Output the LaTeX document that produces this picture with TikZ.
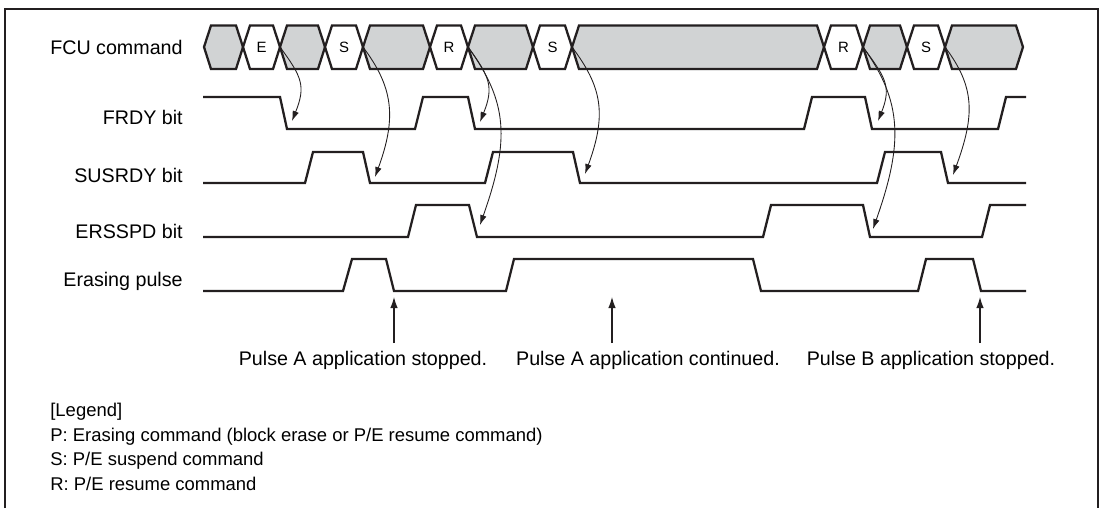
\documentclass[tikz,border=0pt]{standalone}
\usepackage{fontspec}
\setmainfont{Liberation Sans}
\usetikzlibrary{arrows.meta}
\definecolor{busc}{HTML}{D1D3D4}
\definecolor{ink}{HTML}{231F20}
\tikzset{
  frame/.style={draw=ink, line width=1.4pt},
  wave/.style={draw=ink, line width=1.3pt, line join=miter},
  bus/.style={draw=ink, line width=1.3pt, line join=miter},
  sig/.style={font=\fontsize{11.2}{13}\selectfont, anchor=base east, inner sep=0pt},
  cmd/.style={font=\fontsize{8.5}{10}\selectfont, inner sep=0pt},
  note/.style={font=\fontsize{11.2}{13}\selectfont, inner sep=0pt},
  lgd/.style={font=\fontsize{10.5}{12}\selectfont, anchor=west, inner sep=0pt},
  flow/.style={-{Latex[length=2mm,width=1.3mm]}, draw=ink, line width=0.5pt},
  pointer/.style={-{Latex[length=2.2mm,width=1.5mm]}, draw=ink, line width=0.6pt},
}

\begin{document}
\begin{tikzpicture}[x=0.2mm, y=-0.2mm]
\useasboundingbox (0,0) rectangle (1101,508);

% frame, open at the bottom
\draw[frame] (5,508) -- (5,9) -- (1098,9) -- (1098,508);

% signal names
\node[sig] (nfcu) at (183,54) {FCU command};
\node[sig] (nfrdy) at (183,124) {FRDY bit};
\node[sig] (nsus) at (183,182) {SUSRDY bit};
\node[sig] (ners) at (183,238) {ERSSPD bit};
\node[sig] (nerase) at (183,286) {Erasing pulse};

% ---------------- the command bus ----------------
\foreach \a/\b/\c/\t [count=\i] in {204/243/busc/{}, 243/280/white/E, 280/325/busc/{},
    325/363/white/S, 363/430/busc/{}, 430/468/white/R, 468/533/busc/{}, 533/572/white/S,
    572/824/busc/{}, 824/863/white/R, 863/907/busc/{}, 907/945/white/S, 945/1023/busc/{}} {
  \draw[bus, fill=\c] (\a,47) -- (\a+7,25.5) -- (\b-7,25.5) -- (\b,47) -- (\b-7,69) -- (\a+7,69) -- cycle;
  \node[cmd] (seg\i) at ({(\a+\b)/2},47.5) {\t};
}
% where each command ends
\coordinate (eEnd) at (280,47);
\coordinate (sEndA) at (363,47);
\coordinate (rEndA) at (468,47);
\coordinate (sEndB) at (572,47);
\coordinate (rEndB) at (863,47);
\coordinate (sEndC) at (945,47);

% ---------------- the flags ----------------
\draw[wave] (203,97) -- (280,97) -- (287,129) -- (415,129) -- (423,97) -- (468,97) -- (475,129)
  -- (804,129) -- (812,97) -- (865,97) -- (872,129) -- (998,129) -- (1006,97) -- (1026,97);
\draw[wave] (203,183) -- (305,183) -- (313,152) -- (363,152) -- (370,183) -- (485,183) -- (493,152)
  -- (573,152) -- (580,183) -- (877,183) -- (885,152) -- (941,152) -- (948,183) -- (1026,183);
\draw[wave] (203,237) -- (408,237) -- (416,205) -- (469,205) -- (477,237) -- (763,237) -- (771,205)
  -- (863,205) -- (870,237) -- (982,237) -- (990,205) -- (1026,205);
\draw[wave] (203,291) -- (343,291) -- (352,259) -- (386,259) -- (394,291) -- (506,291) -- (514,259)
  -- (753,259) -- (761,291) -- (918,291) -- (926,259) -- (973,259) -- (981,291) -- (1026,291);

% falling edges that a command causes
\coordinate (frA) at (292,121);
\coordinate (suA) at (375,177);
\coordinate (frB) at (480,122);
\coordinate (erA) at (480,225);
\coordinate (suB) at (585,174);
\coordinate (frC) at (878,121);
\coordinate (erB) at (873,229);
\coordinate (suC) at (953,175);
\draw[flow] (eEnd) .. controls +(22,30) and +(14,-35) .. (frA);
\draw[flow] (sEndA) .. controls +(30,40) and +(22,-60) .. (suA);
\draw[flow] (rEndA) .. controls +(22,30) and +(14,-35) .. (frB);
\draw[flow] (rEndA) .. controls +(40,55) and +(30,-85) .. (erA);
\draw[flow] (sEndB) .. controls +(30,40) and +(22,-60) .. (suB);
\draw[flow] (rEndB) .. controls +(22,30) and +(14,-35) .. (frC);
\draw[flow] (rEndB) .. controls +(40,55) and +(30,-85) .. (erB);
\draw[flow] (sEndC) .. controls +(30,40) and +(22,-60) .. (suC);

% ---------------- the pulse notes ----------------
\coordinate (tipA) at (394,297);
\coordinate (tipB) at (612,297);
\coordinate (tipC) at (980,297);
\coordinate (footA) at (394,343);
\coordinate (footB) at (612,343);
\coordinate (footC) at (980,343);
\draw[pointer] (footA) -- (tipA);
\draw[pointer] (footB) -- (tipB);
\draw[pointer] (footC) -- (tipC);
\node[note] (stopA) at (363,360) {Pulse A application stopped.};
\node[note] (contA) at (648,360) {Pulse A application continued.};
\node[note] (stopB) at (931,360) {Pulse B application stopped.};

% legend
\node[lgd] (lgdhead) at (50,412) {[Legend]};
\node[lgd] (lgdp) at (50,437) {P: Erasing command (block erase or P/E resume command)};
\node[lgd] (lgds) at (50,461) {S: P/E suspend command};
\node[lgd] (lgdr) at (50,484) {R: P/E resume command};
\end{tikzpicture}
\end{document}
